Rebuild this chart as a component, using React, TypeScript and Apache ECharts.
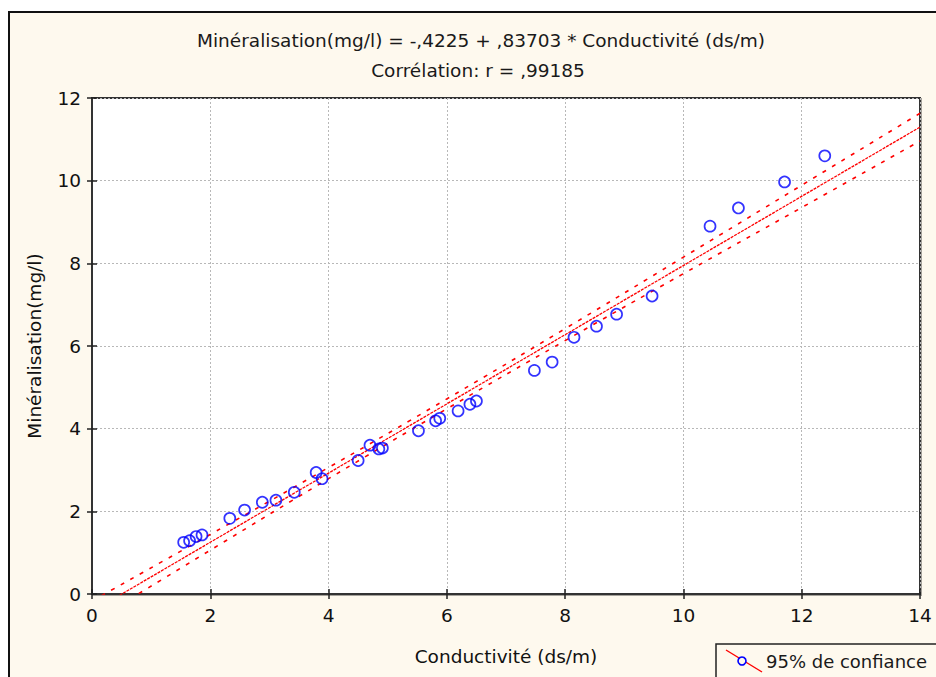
import React, { useEffect, useRef } from "react";
import * as echarts from "echarts";

const titleLine1 = "Minéralisation(mg/l) = -,4225 + ,83703 * Conductivité (ds/m)";
const titleLine2 = "Corrélation: r = ,99185";
const xName = "Conductivité (ds/m)";
const yName = "Minéralisation(mg/l)";
const legendLabel = "95% de confiance";

const conductivite = [
  1.55, 1.65, 1.76, 1.86, 2.33, 2.58, 2.88, 3.11, 3.42, 3.79, 3.89, 4.5, 4.7, 4.85,
  4.91, 5.52, 5.81, 5.88, 6.19, 6.39, 6.5, 7.48, 7.78, 8.15, 8.53, 8.87, 9.47, 10.45,
  10.93, 11.71, 12.39,
];
const mineralisation = [
  1.25, 1.29, 1.39, 1.43, 1.83, 2.03, 2.22, 2.27, 2.46, 2.94, 2.79, 3.23, 3.6, 3.51,
  3.53, 3.95, 4.19, 4.25, 4.43, 4.59, 4.67, 5.41, 5.61, 6.21, 6.48, 6.77, 7.21, 8.9,
  9.34, 9.97, 10.6,
];

const fitX = [0, 14];
const fitY = [-0.4225, 11.2959];

const bandX = [0, 2, 4, 6, 8, 10, 12, 14];
const bandUpper = [-0.17, 1.44, 3.06, 4.72, 6.42, 8.15, 9.89, 11.63];
const bandLower = [-0.68, 1.06, 2.79, 4.48, 6.13, 7.75, 9.35, 10.96];

const xTicks = { min: 0, max: 14, interval: 2 };
const yTicks = { min: 0, max: 12, interval: 2 };

const FONT = "DejaVu Sans, Verdana, sans-serif";
const CREAM = "#fef9ee";

export default function App() {
  const ref = useRef<HTMLDivElement>(null);
  useEffect(() => {
    document.body.style.margin = "0";
    if (!ref.current) return;
    const chart = echarts.init(ref.current, undefined, { renderer: "svg" });
    const pair = (xs: number[], ys: number[]) => xs.map((x, i) => [x, ys[i]]);
    const tickStyle = { show: true, inside: true, length: 5, lineStyle: { color: "#222", width: 1.5 } };
    const axisLine = { show: true, lineStyle: { color: "#333", width: 2 } };
    chart.setOption({
      animation: false,
      backgroundColor: "#ffffff",
      textStyle: { fontFamily: FONT },
      grid: {
        left: 92,
        top: 98,
        width: 828,
        height: 496,
        show: true,
        backgroundColor: "#ffffff",
        borderColor: "#333",
        borderWidth: 2,
        shadowColor: "rgba(0,0,0,0.35)",
        shadowOffsetX: 1,
        shadowOffsetY: 1,
        shadowBlur: 1,
      },
      xAxis: [
        {
          type: "value",
          ...xTicks,
          position: "bottom",
          axisLine,
          axisTick: tickStyle,
          axisLabel: { fontSize: 18.5, color: "#111", margin: 12, fontFamily: FONT },
          splitLine: { show: true, lineStyle: { color: "#b8b8b8", type: [2, 2], width: 1 } },
          name: xName,
          nameLocation: "middle",
          nameGap: 53,
          nameTextStyle: { fontSize: 18.5, color: "#111", fontFamily: FONT },
        },
        {
          type: "value",
          ...xTicks,
          position: "top",
          axisLine,
          axisTick: tickStyle,
          axisLabel: { show: false },
          splitLine: { show: false },
        },
      ],
      yAxis: [
        {
          type: "value",
          ...yTicks,
          position: "left",
          axisLine,
          axisTick: tickStyle,
          axisLabel: { fontSize: 18.5, color: "#111", margin: 11, fontFamily: FONT },
          splitLine: { show: true, lineStyle: { color: "#b8b8b8", type: [2, 2], width: 1 } },
          name: yName,
          nameLocation: "middle",
          nameGap: 48,
          nameTextStyle: { fontSize: 18.5, color: "#111", fontFamily: FONT },
        },
        {
          type: "value",
          ...yTicks,
          position: "right",
          axisLine,
          axisTick: tickStyle,
          axisLabel: { show: false },
          splitLine: { show: false },
        },
      ],
      series: [
        {
          type: "line",
          data: pair(bandX, bandUpper),
          smooth: true,
          symbol: "none",
          clip: true,
          lineStyle: { color: "#ff0000", width: 1.6, type: [4, 7] },
          z: 2,
        },
        {
          type: "line",
          data: pair(bandX, bandLower),
          smooth: true,
          symbol: "none",
          clip: true,
          lineStyle: { color: "#ff0000", width: 1.6, type: [4, 7] },
          z: 2,
        },
        {
          type: "line",
          data: pair(fitX, fitY),
          symbol: "none",
          clip: true,
          lineStyle: { color: "#ff0000", width: 1.3, type: [3, 1] },
          z: 3,
        },
        {
          type: "scatter",
          data: pair(conductivite, mineralisation),
          symbol: "circle",
          symbolSize: 11,
          itemStyle: { color: "rgba(0,0,0,0)", borderColor: "#0000ff", borderWidth: 1.7 },
          z: 4,
        },
      ],
      graphic: [
        {
          type: "rect",
          z: -10,
          shape: { x: 9, y: 12, width: 940, height: 680 },
          style: { fill: CREAM, stroke: "#111", lineWidth: 2 },
        },
        {
          type: "text",
          z: 10,
          x: 481,
          y: 40,
          style: {
            text: titleLine1,
            fontSize: 18.5,
            fontFamily: FONT,
            fill: "#1a1a1a",
            align: "center",
            verticalAlign: "middle",
          },
        },
        {
          type: "text",
          z: 10,
          x: 478,
          y: 70,
          style: {
            text: titleLine2,
            fontSize: 18.5,
            fontFamily: FONT,
            fill: "#1a1a1a",
            align: "center",
            verticalAlign: "middle",
          },
        },
        {
          type: "rect",
          z: 10,
          shape: { x: 716, y: 644, width: 300, height: 60 },
          style: { fill: CREAM, stroke: "#222", lineWidth: 1.5 },
        },
        {
          type: "line",
          z: 11,
          shape: { x1: 726, y1: 650, x2: 762, y2: 672 },
          style: { stroke: "#ff0000", lineWidth: 1.4 },
        },
        {
          type: "circle",
          z: 12,
          shape: { cx: 742, cy: 661, r: 4 },
          style: { fill: CREAM, stroke: "#0000ff", lineWidth: 1.6 },
        },
        {
          type: "text",
          z: 12,
          x: 766,
          y: 661,
          style: {
            text: legendLabel,
            fontSize: 18,
            fontFamily: FONT,
            fill: "#1a1a1a",
            align: "left",
            verticalAlign: "middle",
          },
        },
      ],
    });
    return () => chart.dispose();
  }, []);
  return <div ref={ref} style={{ width: 936, height: 677 }} />;
}
